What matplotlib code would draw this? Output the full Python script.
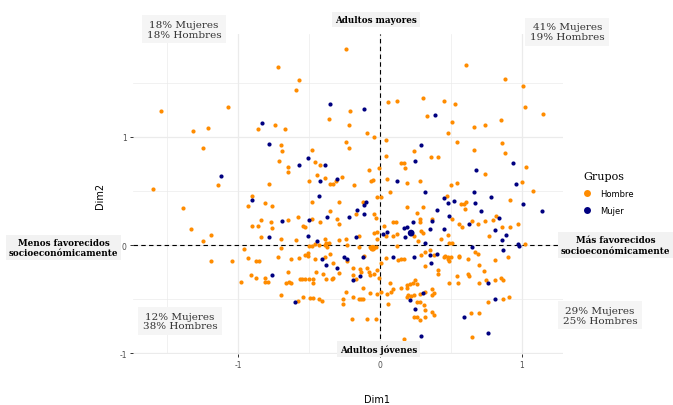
import matplotlib
matplotlib.use('Agg')
import matplotlib.pyplot as plt
from matplotlib.lines import Line2D

# Coordenadas de individuos (Dim1, Dim2)
hombre_x = [-1.54, -1.07, -1.32, -1.21, -0.86, -1.25, -1.14, -1.60, -0.90,
            -0.24, -0.72, -0.57, -0.59, -0.21, -0.36, -0.74, -0.22, -0.67, -0.09, -0.04, -0.70, -0.69,
            -0.24, -0.22, -0.48, -0.71, -0.46, -0.42, -0.65, -0.65, -0.08, -0.01, -0.44, -0.39, -0.27,
            -0.31, -0.50, -0.35, -0.33, -0.18, -0.06, -0.05, -0.78, -0.02,
            0.61, 0.06, 0.12, 0.30, 0.45, 0.53, 0.33, 0.51, 0.66, 0.48, 0.04, 0.54, 0.24, 0.66, 0.04,
            0.36, 0.41, 0.15, 0.17, 0.18, 0.05, 0.19, 0.28, 0.50, 0.54, 0.07, 0.47, 0.01,
            0.88, 1.01, 1.02, 1.15, 0.85, 0.74, 0.86, 0.88, 0.74, 1.03, 1.00, 1.08, 0.92,
            -1.39, -0.93, -1.33, -1.19, -1.25, -0.90, -0.86, -0.96, -0.93, -1.19, -1.04, -0.87, -0.85,
            -0.91, -0.87, -0.98, -0.84,
            -0.81, -0.76, -0.48, -0.29, -0.12, -0.35, -0.17, -0.04, -0.03, -0.77, -0.76, -0.65, -0.58,
            -0.48, -0.54, -0.53, -0.42, -0.30, -0.29, -0.84, -0.70, -0.59, -0.39, -0.46, -0.43, -0.50,
            -0.48, -0.38, -0.36, -0.39, -0.37, -0.29, -0.24, -0.15, -0.04, -0.02, -0.02, -0.23, -0.15,
            -0.07, -0.05, -0.03, -0.06, -0.70, -0.51, -0.51, -0.53, -0.46, -0.39, -0.35, -0.72, -0.63,
            -0.57, -0.23, -0.11, -0.33, -0.29, -0.19, -0.14, -0.09, -0.08, -0.07, -0.04, -0.13, -0.02,
            -0.19, -0.17, -0.81, -0.81, -0.79, -0.65, -0.66, -0.64, -0.63, -0.56, -0.55, -0.53, -0.50,
            -0.47, -0.47, -0.45, -0.40, -0.38, -0.34, -0.33, -0.01, -0.12, -0.07, -0.02, -0.24, -0.19,
            -0.15, -0.13, -0.12, -0.26, -0.26, -0.70, -0.54, -0.49, -0.47, -0.43, -0.41, -0.58, -0.20,
            -0.09, -0.03,
            0.57, 0.59, 0.61, 0.60, 0.19, 0.30, 0.26, 0.51, 0.28, 0.28, 0.37, 0.09, 0.11, 0.03, 0.09,
            0.04, 0.12, 0.24, 0.29, 0.30, 0.27, 0.43, 0.48, 0.56, 0.58, 0.65, 0.49, 0.51, 0.12, 0.04,
            0.13, 0.15, 0.17, 0.29, 0.32, 0.35, 0.38, 0.45, 0.46, 0.48, 0.48, 0.49, 0.50, 0.56, 0.56,
            0.62, 0.01, 0.32, 0.41, 0.41, 0.54, 0.55, 0.49, 0.62, 0.63, 0.07, 0.19, 0.21, 0.23, 0.25,
            0.26, 0.09, 0.08, 0.05, 0.01, 0.15, 0.19, 0.22, 0.20, 0.19, 0.24, 0.28, 0.32, 0.37, 0.38,
            0.37, 0.26, 0.28, 0.31, 0.32, 0.06, 0.37, 0.24, 0.26, 0.28, 0.32, 0.38, 0.65, 0.17, 0.64,
            0.82, 0.80, 0.74, 0.69, 0.86, 0.92, 0.97, 0.77, 1.02, 0.67, 0.69, 0.90, 0.81, 0.70, 0.73,
            0.75, 0.81, 0.85, 0.87, 0.70, 0.76, 0.87, 0.91, 0.70]
hombre_y = [1.24, 1.27, 1.05, 1.08, 1.07, 0.90, 0.55, 0.52, 0.45,
            1.81, 1.64, 1.52, 1.43, 1.24, 1.16, 1.11, 1.11, 1.07, 1.03, 1.00, 0.92, 0.87,
            0.95, 0.90, 0.88, 0.78, 0.77, 0.74, 0.72, 0.67, 0.69, 0.71, 0.65, 0.62, 0.63,
            0.59, 0.59, 0.56, 0.56, 0.55, 0.59, 0.60, 0.56, 0.44,
            1.66, 1.32, 1.33, 1.36, 1.33, 1.30, 1.19, 1.14, 1.09, 1.03, 0.97, 0.95, 0.87, 0.88, 0.82,
            0.81, 0.81, 0.76, 0.76, 0.71, 0.61, 0.57, 0.59, 0.55, 0.57, 0.49, 0.45, 0.44,
            1.53, 1.47, 1.27, 1.21, 1.15, 1.11, 0.94, 0.85, 0.66, 0.72, 0.58, 0.50, 0.42,
            0.34, 0.36, 0.15, 0.09, 0.04, 0.18, 0.18, -0.04, -0.12, -0.15, -0.15, -0.15, -0.15,
            -0.28, -0.30, -0.34, 0.23,
            0.39, 0.36, 0.40, 0.40, 0.40, 0.31, 0.29, 0.29, 0.25, 0.21, 0.16, 0.23, 0.26,
            0.24, 0.18, 0.17, 0.21, 0.24, 0.19, 0.07, 0.06, 0.05, 0.06, 0.01, 0.00, -0.01,
            -0.01, 0.02, 0.02, 0.00, -0.02, 0.05, 0.06, 0.08, 0.11, 0.12, 0.06, 0.00, -0.02,
            -0.02, -0.02, -0.02, -0.03, -0.03, -0.07, -0.10, -0.09, -0.13, -0.11, -0.08, -0.11, -0.13,
            -0.12, -0.15, -0.10, -0.17, -0.26, -0.21, -0.22, -0.21, -0.25, -0.28, -0.27, -0.25, -0.23,
            -0.28, -0.31, -0.30, -0.34, -0.34, -0.25, -0.35, -0.34, -0.35, -0.31, -0.31, -0.31, -0.31,
            -0.31, -0.35, -0.25, -0.27, -0.31, -0.31, -0.30, -0.30, -0.40, -0.44, -0.45, -0.43, -0.48,
            -0.50, -0.50, -0.50, -0.50, -0.54, -0.46, -0.48, -0.49, -0.49, -0.50, -0.52, -0.52, -0.68,
            -0.68, -0.68,
            0.38, 0.38, 0.40, 0.33, 0.35, 0.35, 0.30, 0.24, 0.24, 0.21, 0.24, 0.21, 0.21, 0.18, 0.08,
            0.08, 0.10, 0.08, 0.13, 0.11, 0.04, 0.06, 0.09, 0.19, 0.17, 0.22, 0.02, 0.02, -0.01, -0.12,
            -0.14, -0.13, -0.13, -0.09, -0.06, -0.05, -0.09, -0.11, -0.10, -0.11, -0.13, -0.15, -0.11,
            -0.10, -0.11,
            -0.13, -0.17, -0.19, -0.23, -0.27, -0.29, -0.35, -0.35, -0.27, -0.29, -0.35, -0.37, -0.36,
            -0.35, -0.32,
            -0.36, -0.41, -0.43, -0.45, -0.43, -0.40, -0.40, -0.47, -0.46, -0.48, -0.46, -0.45, -0.43,
            -0.41, -0.44,
            -0.46, -0.53, -0.53, -0.55, -0.60, -0.54, -0.62, -0.66, -0.66, -0.69, -0.66, -0.65, -0.85,
            -0.87, -0.63,
            0.27, 0.23, 0.22, 0.19, 0.17, 0.17, 0.19, 0.08, 0.01, -0.06, -0.08, -0.11, -0.14, -0.18,
            -0.24, -0.32, -0.32, -0.30, -0.32, -0.35, -0.53, -0.50, -0.48, -0.63]

mujer_x = [-1.12,
           -0.35, -0.11, -0.83, -0.78, -0.51, -0.57, -0.39, -0.30, -0.42, -0.43,
           0.39, 0.29, 0.25, 0.12, 0.32, 0.66, 0.45,
           0.94, 0.68, 0.96, 0.78,
           -0.90,
           -0.10, -0.16, -0.11, -0.37, -0.22, -0.11, -0.69, -0.50, -0.78, -0.51, -0.44, -0.17, -0.41,
           -0.25, -0.23, -0.12, -0.38, -0.30, -0.14, -0.19, -0.76, -0.60,
           0.52, 0.48, 0.40, 0.49, 0.37, 0.23, 0.19, 0.17, 0.35, 0.05, 0.02, 0.18, 0.32, 0.45, 0.63,
           0.65, 0.09, 0.24, 0.35, 0.40, 0.36, 0.30, 0.21, 0.25, 0.59, 0.29, 0.67,
           1.01, 1.14, 0.71, 0.84, 0.81, 0.89, 0.86, 0.97, 0.98, 0.87, 0.76, 0.81, 0.76]
mujer_y = [0.64,
           1.30, 1.26, 1.13, 0.93, 0.80, 0.74, 0.74, 0.61, 0.59, 0.45,
           1.20, 0.92, 0.78, 0.59, 0.49, 0.49, 0.43,
           0.76, 0.69, 0.56, 0.44,
           0.42,
           0.40, 0.32, 0.37, 0.26, 0.26, 0.29, 0.22, 0.23, 0.07, 0.08, 0.04, 0.07, -0.13,
           -0.11, -0.13, -0.11, -0.18, -0.21, -0.29, -0.32, -0.28, -0.53,
           0.41, 0.39, 0.32, 0.27, 0.22, 0.21, 0.17, 0.16, 0.15, 0.12, 0.10, 0.07, 0.02, 0.15, 0.19,
           -0.02, -0.11, -0.11, -0.09, -0.08, -0.17, -0.44, -0.51, -0.59, -0.66, -0.84, 0.39,
           0.38, 0.31, 0.31, 0.25, 0.14, 0.09, 0.05, 0.01, -0.01, -0.05, -0.35, -0.50, -0.81]

# Centros de cada grupo
grupos = ['Hombre', 'Mujer']
centro_x = [-0.05, 0.22]
centro_y = [-0.03, 0.11]
colores = ['darkorange', 'navy']

cuadrantes = ['18% Mujeres\n18% Hombres', '41% Mujeres\n19% Hombres',
              '12% Mujeres\n38% Hombres', '29% Mujeres\n25% Hombres']
cuad_x = [-1.38, 1.32, -1.41, 1.55]
cuad_y = [1.99, 1.97, -0.70, -0.65]

ejes_txt = ['Adultos mayores', 'Adultos jóvenes',
            'Menos favorecidos\nsocioeconómicamente', 'Más favorecidos\nsocioeconómicamente']
ejes_x = [-0.03, -0.01, -2.23, 1.66]
ejes_y = [2.08, -0.96, -0.02, 0.0]

fig = plt.figure(figsize=(6.73, 4.06), dpi=100)
ax = fig.add_axes([133 / 673, 51 / 406, 430 / 673, 320 / 406])

ax.set_xlim(-1.74, 1.29)
ax.set_ylim(-1.006, 1.948)

# grid estilo theme_minimal
ax.set_xticks([-1, 0, 1])
ax.set_yticks([-1, 0, 1])
ax.set_xticklabels(['-1', '0', '1'])
ax.set_yticklabels(['-1', '0', '1'])
ax.set_xticks([-1.5, -0.5, 0.5], minor=True)
ax.set_yticks([-0.5, 0.5, 1.5], minor=True)
ax.grid(which='major', color='#EBEBEB', linewidth=0.9)
ax.grid(which='minor', color='#EBEBEB', linewidth=0.5)
ax.set_axisbelow(True)
for s in ax.spines.values():
    s.set_visible(False)
ax.tick_params(which='major', length=2.5, width=0.7, color='#333333',
               labelsize=5.5, labelcolor='#4D4D4D', pad=2)
ax.tick_params(which='minor', length=0)

ax.axhline(0, color='black', linestyle=(0, (4, 3)), linewidth=0.8, zorder=1)
ax.axvline(0, color='black', linestyle=(0, (4, 3)), linewidth=0.8, zorder=1)

ax.scatter(hombre_x, hombre_y, s=9, color=colores[0], linewidths=0, zorder=3)
ax.scatter(mujer_x, mujer_y, s=9, color=colores[1], linewidths=0, zorder=3)
ax.scatter(centro_x, centro_y, s=24, c=colores, linewidths=0, zorder=4)

for t, x, y in zip(cuadrantes, cuad_x, cuad_y):
    ax.text(x, y, t, ha='center', va='center', fontsize=7.5, family='DejaVu Serif',
            color='#333333', linespacing=1.1,
            bbox=dict(boxstyle='square,pad=0.45', facecolor='#F5F5F5', edgecolor='none'))

for t, x, y in zip(ejes_txt, ejes_x, ejes_y):
    ax.text(x, y, t, ha='center', va='center', fontsize=6.3, family='DejaVu Serif',
            fontweight='bold', linespacing=1.15,
            bbox=dict(boxstyle='square,pad=0.35', facecolor='#F2F2F2', edgecolor='none'))

fig.text(377 / 673, 6 / 406, 'Dim1', ha='center', va='center', fontsize=7)
fig.text(100 / 673, 1 - 196 / 406, 'Dim2', ha='center', va='center', fontsize=7, rotation=90)

handles = [Line2D([], [], marker='o', linestyle='none', markersize=5,
                  markerfacecolor=c, markeredgewidth=0, label=g)
           for g, c in zip(grupos, colores)]
leg = fig.legend(handles=handles, title='Grupos', loc='upper left',
                 bbox_to_anchor=(583 / 673, 1 - 172 / 406), frameon=False,
                 fontsize=6, handlelength=1, handletextpad=1.1, labelspacing=0.95,
                 borderpad=0, borderaxespad=0, alignment='left',
                 title_fontproperties={'family': 'DejaVu Serif', 'size': 8})

fig.savefig('out.png', dpi=100)
